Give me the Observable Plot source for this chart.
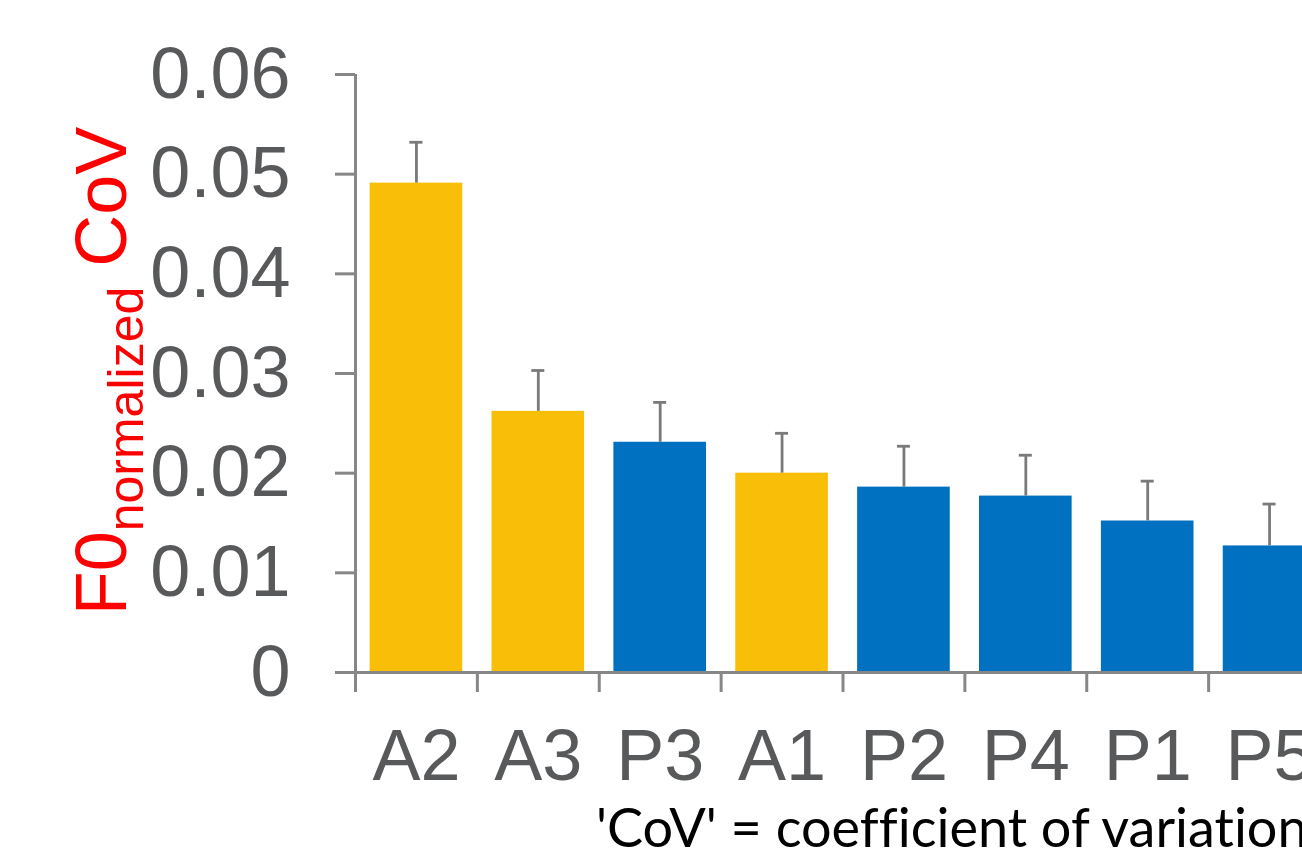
<!DOCTYPE html>
<html>
<head>
<meta charset="utf-8">
<script src="https://cdn.jsdelivr.net/npm/d3@7"></script>
<script src="https://cdn.jsdelivr.net/npm/@observablehq/plot@0.6"></script>
<style>
  html, body { margin: 0; padding: 0; background: #fff; overflow: hidden; width: 1302px; height: 849px; }
  #chart svg { display: block; }
</style>
</head>
<body>
<div id="chart"></div>
<script>
// ---- data ----
const categories = ["A2", "A3", "P3", "A1", "P2", "P4", "P1", "P5"];
const groups     = ["A",  "A",  "P",  "A",  "P",  "P",  "P",  "P"];
const values     = [0.0491, 0.0262, 0.0231, 0.0200, 0.0186, 0.0177, 0.0152, 0.0127];
const errors     = [0.0041, 0.0041, 0.0040, 0.0040, 0.0041, 0.0041, 0.0040, 0.0042];
const yTicks      = [0, 0.01, 0.02, 0.03, 0.04, 0.05, 0.06];
const yTickLabels = ["0", "0.01", "0.02", "0.03", "0.04", "0.05", "0.06"];
const groupNames  = ["A", "P"];
const groupColors = ["#F9BE08", "#0070C0"];
const yLabelMain = "F0", yLabelSub = "normalized", yLabelTail = " CoV";
const captionText = "'CoV' = coefficient of variation";

// ---- layout ----
const W = 1302, H = 849;
const plotLeft = 355, plotTop = 74, zeroY = 672, xRight = 1330;
const tickLen = 20;
const step = (xRight - plotLeft) / categories.length;
const bandW = step * 0.76;
const capW = 13;
const axisGray = "#878787", errGray = "#7a7a7a", textGray = "#58595B";
const yBottom = -tickLen * 0.06 / (zeroY - plotTop);

const data = categories.map((c, i) => ({cat: c, group: groups[i], value: values[i], upper: values[i] + errors[i]}));

const chart = Plot.plot({
  width: W, height: H,
  marginLeft: plotLeft, marginRight: 0, marginTop: plotTop, marginBottom: H - (zeroY + tickLen + 1),
  style: {fontFamily: "'Liberation Sans', Arial, sans-serif", background: "#fff"},
  x: {domain: categories, range: [plotLeft, xRight], paddingInner: 0.24, paddingOuter: 0.12, round: false, axis: null, label: null},
  y: {domain: [0, 0.06], range: [zeroY, plotTop], axis: null, label: null},
  color: {domain: groupNames, range: groupColors},
  marks: [
    Plot.barY(data, {x: "cat", y: "value", fill: "group"}),
    Plot.ruleX(data, {x: "cat", y1: "value", y2: "upper", stroke: errGray, strokeWidth: 2.8}),
    Plot.tickY(data, {x: "cat", y: "upper", stroke: errGray, strokeWidth: 2.8,
      insetLeft: (bandW - capW) / 2, insetRight: (bandW - capW) / 2}),
    Plot.ruleY([0], {stroke: axisGray, strokeWidth: 3}),
    Plot.ruleX(categories, {x: d => d, dx: -step / 2, y1: 0, y2: yBottom, stroke: axisGray, strokeWidth: 3}),
    Plot.ruleX([categories[0]], {x: d => d, dx: -step / 2, y1: 0.06, y2: yBottom, stroke: axisGray, strokeWidth: 3}),
    Plot.axisY(yTicks, {tickSize: tickLen, tickPadding: 45, fontSize: 72, label: null,
      tickFormat: d => yTickLabels[yTicks.indexOf(d)],
      stroke: axisGray, strokeWidth: 3, fill: textGray}),
    Plot.axisX({tickSize: 0, tickPadding: 35, fontSize: 72, fill: textGray, label: null})
  ]
});
document.getElementById("chart").appendChild(chart);

const svg = d3.select(chart);
// y axis label with subscript
const lab = svg.append("text")
  .attr("transform", "translate(126,371) rotate(-90)")
  .attr("text-anchor", "middle")
  .attr("fill", "#FF0000")
  .attr("font-family", "'Liberation Sans', Arial, sans-serif")
  .attr("font-size", 72);
lab.append("tspan").text(yLabelMain);
lab.append("tspan").attr("font-size", 50).attr("dy", 17).text(yLabelSub);
lab.append("tspan").attr("dy", -17).text(yLabelTail);

// caption
svg.append("text")
  .attr("x", 596).attr("y", 847)
  .attr("text-anchor", "start")
  .attr("fill", "#000")
  .attr("font-family", "Lato, 'Open Sans', sans-serif")
  .attr("font-size", 54)
  .style("white-space", "pre")
  .style("font-variant-ligatures", "none")
  .text(captionText);
</script>
</body>
</html>
